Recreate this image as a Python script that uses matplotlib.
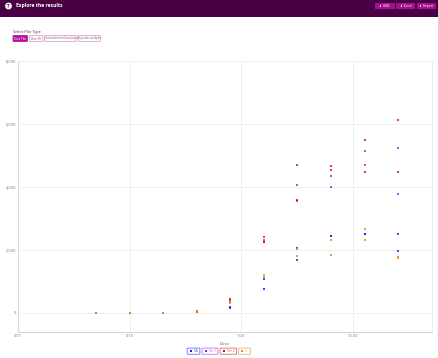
import matplotlib
matplotlib.use("Agg")
import matplotlib.pyplot as plt
from matplotlib.patches import Rectangle, FancyBboxPatch, Circle

W, H = 438, 358
doses = [0.05, 0.1, 0.2, 0.4, 0.8, 1.6, 3.2, 6.4, 12.8, 25.6]
na_a = [0, 0, 0, 25, 150, 752, 2053, 2455, 2508, 2508]
na_b = [0, 0, 0, 45, 190, 1080, 1672, 2455, 2490, 1968]
tier1_a = [0, 0, 0, 30, 340, 2307, 4075, 4350, 5152, 5238]
tier1_b = [0, 0, 0, 50, 400, 2250, 3555, 3990, 4688, 3787]
tier2_a = [0, 0, 0, 40, 444, 2410, 4688, 4656, 5492, 6137]
tier2_b = [0, 0, 0, 60, 380, 2240, 3587, 4540, 4486, 4467]
u_a = [0, 0, 0, 30, 360, 1206, 2020, 2307, 2650, 1768]
u_b = [0, 0, 0, 50, 300, 1150, 1800, 1840, 2327, 1740]
series_names = ["NA", "Tier 1", "Tier 2", "U"]
series_colors = ["#1a1aff", "#a020f0", "#c8102e", "#e08a1e"]
series_values = [(na_a, na_b), (tier1_a, tier1_b), (tier2_a, tier2_b), (u_a, u_b)]
x_ticks = [0.01, 0.1, 1, 10]
x_labels = ["0.01", "0.10", "1.00", "10.00"]
y_ticks = [0, 2000, 4000, 6000, 8000]
y_labels = ["0", "2,000", "4,000", "6,000", "8,000"]
plot_types = ["Data Plot", "Dose-PK", "Unconstrained analysis", "Bayesian analysis"]
header_buttons = ["HML", "Excel", "Report"]

fig = plt.figure(figsize=(W / 100, H / 100), dpi=100, facecolor="white")
plt.rcParams["font.family"] = ["Open Sans", "DejaVu Sans"]

ov = fig.add_axes([0, 0, 1, 1], zorder=5)
ov.set_xlim(0, W); ov.set_ylim(H, 0); ov.axis("off"); ov.patch.set_alpha(0)
ov.add_patch(Rectangle((0, 0), W, 16.5, fc="#4a0045", ec="none"))
ov.add_patch(Rectangle((0, 16.5), W, 0.7, fc="#c9a8c6", ec="none"))
ov.add_patch(Circle((8.5, 6), 3.4, fc="white", ec="none"))
ov.text(8.5, 6, "?", color="#4a0045", fontsize=4, fontweight="bold", ha="center", va="center")
ov.text(16, 6, "Explore the results", color="white", fontsize=3.6, fontweight="bold", va="center")
for name, (x0, x1) in zip(header_buttons, [(375, 394.5), (396, 415), (416.5, 436)]):
    ov.add_patch(Rectangle((x0, 3.3), x1 - x0, 5.2, fc="#a4108f", ec="none"))
    ov.text((x0 + x1) / 2, 5.9, "⬇ " + name, color="white", fontsize=2.4, ha="center", va="center")
ov.text(13, 32, "Select Plot Type", color="#333333", fontsize=2.7, va="center")
for i, (name, (x0, x1)) in enumerate(zip(plot_types, [(13, 27.5), (29.5, 43), (44.5, 76), (78, 100.5)])):
    ov.add_patch(FancyBboxPatch((x0 + .4, 35.9), x1 - x0 - .8, 5.2, boxstyle="round,pad=0.3,rounding_size=0.6",
                                fc="#b5129d" if i == 0 else "white", ec="#b5129d" if i == 0 else "#e3a6da", lw=0.7))
    ov.text((x0 + x1) / 2, 38.5, name, color="white" if i == 0 else "#666666", fontsize=2.05, ha="center", va="center")

L, R, T, B = 18.3, 431.7, 61, 331.7
ax = fig.add_axes([L / W, 1 - B / H, (R - L) / W, (B - T) / H])
for name, color, (a, b) in zip(series_names, series_colors, series_values):
    for vals in (a, b):
        ax.scatter(doses, vals, s=4.2, marker="s", color=color, alpha=0.8, linewidths=0, zorder=3, clip_on=False)
ax.set_xscale("log")
ax.set_xlim(0.01, 51.3)
ax.set_ylim(-600, 8000)
ax.set_xticks(x_ticks, x_labels)
ax.set_yticks(y_ticks, y_labels)
ax.minorticks_off()
ax.grid(True, color="#efefef", lw=0.7)
ax.set_axisbelow(True)
ax.tick_params(length=0, labelsize=2.9, labelcolor="#777777", pad=1.5)
for s in ["top", "right"]:
    ax.spines[s].set_color("#efefef"); ax.spines[s].set_linewidth(0.7)
for s in ["left", "bottom"]:
    ax.spines[s].set_color("#d8d8d8"); ax.spines[s].set_linewidth(0.8)
ax.set_xlabel("Dose", fontsize=3, color="#555555", labelpad=3)

for name, color, (x0, x1) in zip(series_names, series_colors, [(187, 200), (202, 218), (220, 236.7), (238.5, 250.5)]):
    ov.add_patch(FancyBboxPatch((x0 + .4, 348.4), x1 - x0 - .8, 5.6, boxstyle="round,pad=0.3,rounding_size=0.8",
                                fc="white", ec=color, lw=0.7, alpha=0.55))
    ov.add_patch(Rectangle((x0 + 2.6, 350.2), 2, 2, fc=color, ec="none"))
    ov.text(x0 + 6.2, 351.2, name, color=color, alpha=0.7, fontsize=2.4, va="center")

fig.savefig("out.png", dpi=100, facecolor="white")
